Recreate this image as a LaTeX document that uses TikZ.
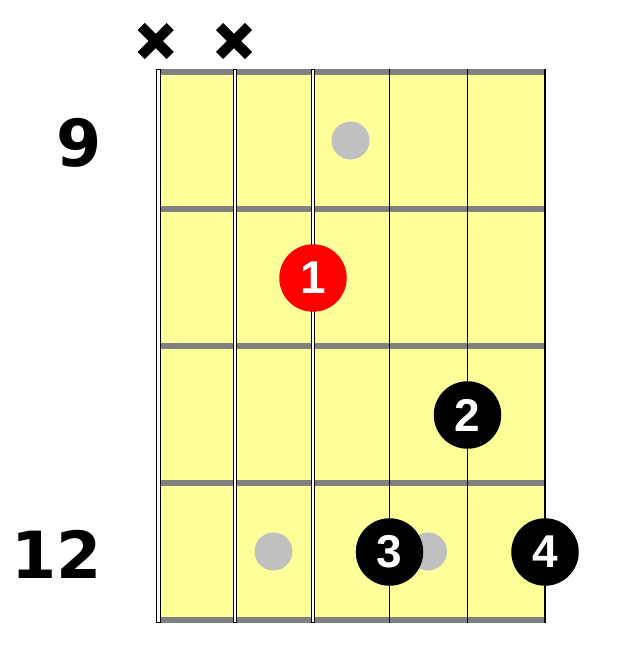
\documentclass[tikz,border=0pt]{standalone}
\usepackage{fontspec}
\newfontfamily\numfont{DejaVu Sans}
\newfontfamily\dotfont{Liberation Sans}
\definecolor{board}{HTML}{FFFF99}
\definecolor{fretgray}{HTML}{808080}
\definecolor{markgray}{HTML}{C0C0C0}
\tikzset{
  fretline/.style={draw=fretgray, line width=5.5pt},
  thinstring/.style={draw=black, line width=1.5pt},
  inlay/.style={circle, fill=markgray, minimum size=38pt, inner sep=0pt},
  finger/.style={circle, fill=black, minimum size=67.5pt, inner sep=0pt, text=white, font=\dotfont\bfseries\fontsize{46}{46}\selectfont},
  fretnum/.style={anchor=base east, inner sep=0pt, font=\numfont\bfseries\fontsize{65}{65}\selectfont},
  mute/.style={draw=black, line width=10pt}
}
\begin{document}
\begin{tikzpicture}[x=1pt,y=-1pt]
\useasboundingbox (0,0) rectangle (634,661);
% fretboard
\fill[board] (157,72) rectangle (545,620);
\foreach \y in {72,209,346,483,620}
  \draw[fretline] (157,\y) -- (545,\y);
% wound strings
\draw[line width=5pt] (158.5,69) -- (158.5,623);
\draw[white, line width=3pt] (158.5,69.8) -- (158.5,622.2);
\draw[line width=4pt] (235,69) -- (235,623);
\draw[white, line width=2pt] (235,69.8) -- (235,622.2);
\draw[line width=3.2pt] (313,69) -- (313,623);
\draw[white, line width=1.2pt] (313,69.8) -- (313,622.2);
% plain strings
\foreach \x in {389.5,467.5,545}
  \draw[thinstring] (\x,69) -- (\x,623);
% inlays
\node[inlay] (d9) at (350.5,140.5) {};
\node[inlay] (d12a) at (273.5,551.5) {};
\node[inlay] (d12b) at (428,551.5) {};
% fingers
\node[finger, fill=red] (f1) at (313,278) {1};
\node[finger] (f2) at (467.5,415) {2};
\node[finger] (f3) at (389.5,552) {3};
\node[finger] (f4) at (545,552) {4};
% fret numbers
\node[fretnum] (n9) at (102,166) {9};
\node[fretnum] (n12) at (102,578) {12};
% muted strings
\coordinate (m1) at (155.7,41);
\coordinate (m2) at (234,41);
\foreach \m in {m1,m2} {
  \draw[mute] ([shift={(-14.5,-14.5)}]\m) -- ([shift={(14.5,14.5)}]\m);
  \draw[mute] ([shift={(-14.5,14.5)}]\m) -- ([shift={(14.5,-14.5)}]\m);
}
\end{tikzpicture}
\end{document}
